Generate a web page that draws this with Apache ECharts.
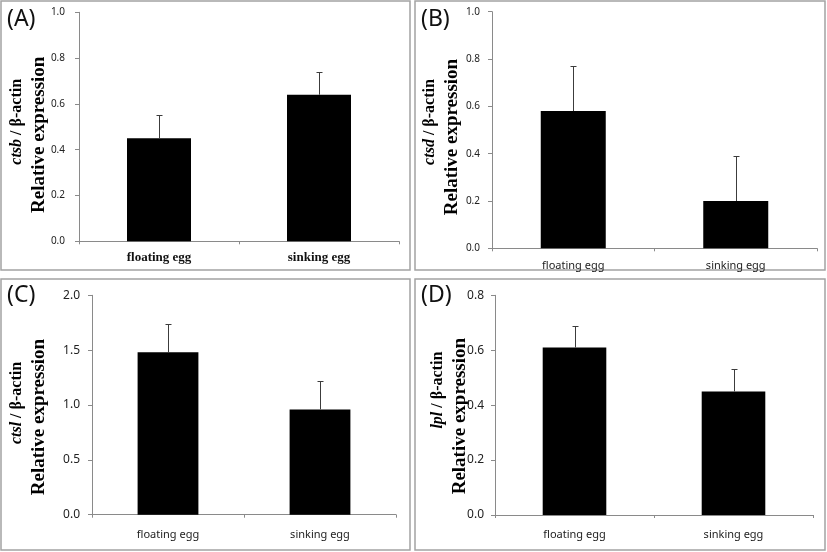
<!DOCTYPE html>
<html><head><meta charset="utf-8">
<script src="https://cdn.jsdelivr.net/npm/echarts@6/dist/echarts.min.js"></script>
<style>html,body{margin:0;padding:0;background:#fff}#c{width:827px;height:552px}</style>
</head><body><div id="c"></div>
<script>
// ---- data ----
const categories = ['floating egg', 'sinking egg'];
const ctsbMean = [0.45, 0.64];
const ctsbErr  = [0.10, 0.10];
const ctsdMean = [0.58, 0.20];
const ctsdErr  = [0.19, 0.19];
const ctslMean = [1.48, 0.96];
const ctslErr  = [0.26, 0.26];
const lplMean  = [0.61, 0.45];
const lplErr   = [0.08, 0.08];
const panelLetters = ['(A)', '(B)', '(C)', '(D)'];
const geneNames = ['ctsb', 'ctsd', 'ctsl', 'lpl'];
const yMax = [1.0, 1.0, 2.0, 0.8];
const yInterval = [0.2, 0.2, 0.5, 0.2];

const means = [ctsbMean, ctsdMean, ctslMean, lplMean];
const errs = [ctsbErr, ctsdErr, ctslErr, lplErr];

// ---- layout ----
const grids = [
  {left: 79, top: 12.3, width: 320, height: 229},
  {left: 492, top: 11.7, width: 325, height: 236.6},
  {left: 92, top: 295.3, width: 304, height: 219.4},
  {left: 495, top: 295.3, width: 318, height: 219.7}
];
const nameGaps = [29, 29, 42, 24];
const line1Pad = [10, 16, 4, 30];   // shifts first name line up
const line2Pad = [16, 14, 24, 22]; // shifts second name line down
const tickFont = [10, 10, 12, 12];
const yLabelMargin = [14, 12, 12, 11];
const xLabelMargin = [10, 12, 15, 14];
const titlePos = [[7, 8], [421, 8], [7, 284], [421, 284]];
const frames = [[1, 1, 409, 269], [415, 1, 410, 269], [1, 279, 409, 271], [415, 279, 410, 271]];

function errRender(params, api) {
  const x = api.value(0), y = api.value(1), e = api.value(2);
  const p0 = api.coord([x, y]);
  const p1 = api.coord([x, y + e]);
  const cx = Math.round(p0[0]) + 0.5;
  const ty = Math.round(p1[1]) + 0.5;
  const cap = 3;
  return {type: 'group', children: [
    {type: 'line', shape: {x1: cx, y1: p0[1], x2: cx, y2: ty}, style: {stroke: '#3c3c3c', lineWidth: 1}},
    {type: 'line', shape: {x1: cx - cap, y1: ty, x2: cx + cap, y2: ty}, style: {stroke: '#3c3c3c', lineWidth: 1}}
  ]};
}

const serif = 'Liberation Serif';
function nameRich(i) {
  return {
    g: {fontFamily: serif, fontSize: 16, fontWeight: 'bold', fontStyle: 'italic', color: '#000', lineHeight: 22,
        padding: [0, 0, 0, line1Pad[i]]},
    a: {fontFamily: serif, fontSize: 16, fontWeight: 'bold', color: '#000', lineHeight: 22},
    r: {fontFamily: serif, fontSize: 19, fontWeight: 'bold', color: '#000', lineHeight: 22,
        padding: [0, line2Pad[i], 0, 0]}
  };
}

const option = {
  backgroundColor: '#fff',
  animation: false,
  title: panelLetters.map((t, i) => ({
    text: t, left: titlePos[i][0], top: titlePos[i][1], padding: 0,
    textStyle: {fontFamily: 'Noto Sans', fontSize: 23, fontWeight: 'normal', color: '#111'}
  })),
  graphic: frames.map(f => ({
    type: 'rect', shape: {x: f[0], y: f[1], width: f[2], height: f[3]},
    style: {fill: 'none', stroke: '#a3a3a3', lineWidth: 1.5}, silent: true, z: -1
  })),
  grid: grids.map(g => Object.assign({}, g, {containLabel: false})),
  xAxis: grids.map((g, i) => ({
    type: 'category', gridIndex: i, data: categories,
    axisLine: {lineStyle: {color: '#8a8a8a', width: 1}},
    axisTick: {show: true, length: 3, lineStyle: {color: '#8a8a8a'}},
    axisLabel: i === 0
      ? {fontFamily: serif, fontSize: 13, fontWeight: 'bold', color: '#111', margin: xLabelMargin[i]}
      : {fontFamily: 'Noto Sans', fontSize: 11, color: '#222', margin: xLabelMargin[i]}
  })),
  yAxis: grids.map((g, i) => ({
    type: 'value', gridIndex: i, min: 0, max: yMax[i], interval: yInterval[i],
    splitLine: {show: false},
    axisLine: {show: true, lineStyle: {color: '#8a8a8a', width: 1}},
    axisTick: {show: true, length: 4, lineStyle: {color: '#8a8a8a'}},
    axisLabel: {fontFamily: 'Noto Sans', fontSize: tickFont[i], color: '#222', margin: yLabelMargin[i],
      formatter: v => v.toFixed(1)},
    name: '{g|' + geneNames[i] + '}{a| / β-actin}\n{r|Relative expression}',
    nameLocation: 'middle', nameGap: nameGaps[i], nameMoveOverlap: false,
    nameTextStyle: {fontFamily: serif, fontSize: 17, fontWeight: 'bold', color: '#000', lineHeight: 22,
      rich: nameRich(i)}
  })),
  series: [].concat(...means.map((m, i) => [
    {type: 'bar', xAxisIndex: i, yAxisIndex: i, data: m, barWidth: '40%',
      itemStyle: {color: '#000', borderColor: '#000', borderWidth: 0}},
    {type: 'custom', xAxisIndex: i, yAxisIndex: i, renderItem: errRender, z: 3,
      data: m.map((v, k) => [k, v, errs[i][k]])}
  ]))
};
echarts.init(document.getElementById('c')).setOption(option);
</script>
</body></html>
